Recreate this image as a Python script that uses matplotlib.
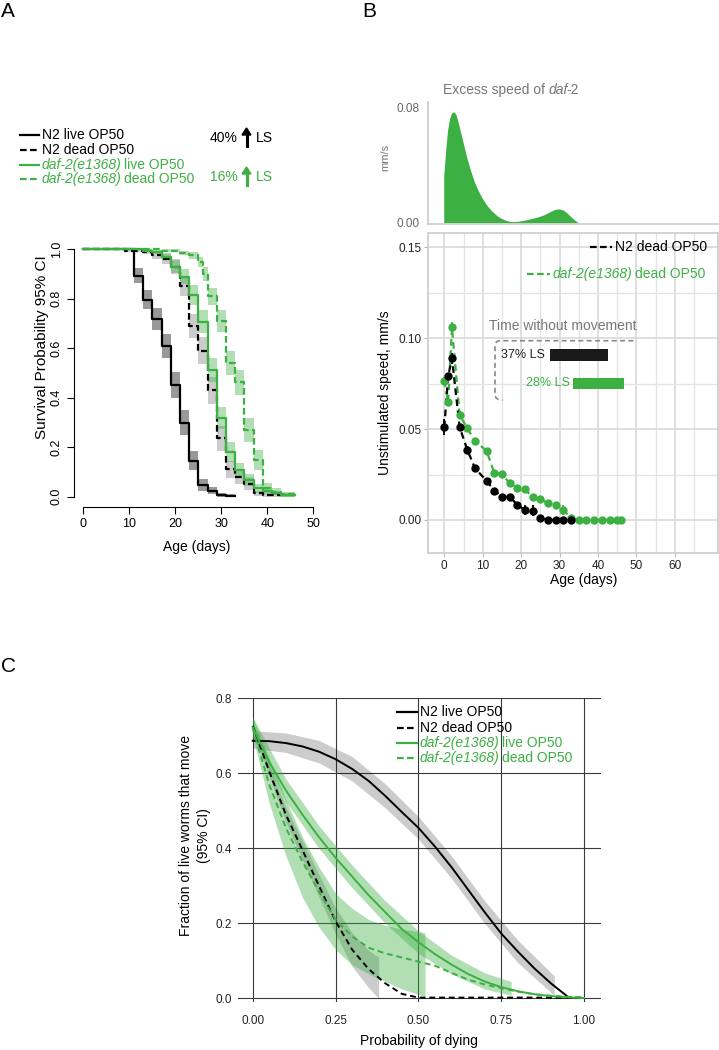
import numpy as np
import matplotlib
matplotlib.use("Agg")
import matplotlib.pyplot as plt
from matplotlib.path import Path
from matplotlib.patches import PathPatch, Rectangle

plt.rcParams['font.family'] = ['Liberation Sans', 'DejaVu Sans']

W, H = 719, 1050
GREEN = '#3cb043'
GREY_TXT = '#777777'

N2_LIVE = [('N2 live OP50', 'normal')]
N2_DEAD = [('N2 dead OP50', 'normal')]
DAF_LIVE = [('daf-2(e1368)', 'italic'), (' live OP50', 'normal')]
DAF_DEAD = [('daf-2(e1368)', 'italic'), (' dead OP50', 'normal')]

# ---- A: Kaplan-Meier, fraction alive after each day, with CI half width
n2_live_days = [0, 11, 13, 15, 17, 19, 21, 23, 25, 27, 29, 31]
n2_live_surv = [1.0, 0.894, 0.797, 0.717, 0.609, 0.452, 0.299, 0.146, 0.047, 0.024, 0.008, 0.004]
n2_live_ci = [0, 0.03, 0.04, 0.045, 0.05, 0.053, 0.05, 0.04, 0.025, 0.015, 0.008, 0.005]
n2_live_end = 33

n2_dead_days = [0, 9, 13, 15, 17, 19, 21, 23, 25, 27, 29, 31, 33, 35, 37, 39]
n2_dead_surv = [1.0, 0.995, 0.99, 0.975, 0.96, 0.93, 0.85, 0.69, 0.59, 0.43, 0.236, 0.11, 0.08, 0.053, 0.013, 0.007]
n2_dead_ci = [0, 0.005, 0.01, 0.015, 0.02, 0.03, 0.04, 0.05, 0.055, 0.055, 0.05, 0.035, 0.03, 0.025, 0.01, 0.007]
n2_dead_end = 43

daf_live_days = [0, 13, 15, 17, 19, 21, 23, 25, 27, 29, 31, 33, 35, 37, 39, 41, 43]
daf_live_surv = [1.0, 0.995, 0.99, 0.97, 0.93, 0.89, 0.816, 0.708, 0.512, 0.317, 0.182, 0.108, 0.067, 0.034, 0.024, 0.015, 0.008]
daf_live_ci = [0, 0.005, 0.008, 0.015, 0.025, 0.03, 0.04, 0.045, 0.05, 0.045, 0.04, 0.03, 0.025, 0.018, 0.015, 0.01, 0.008]
daf_live_end = 46

daf_dead_days = [0, 17, 21, 23, 25, 26, 27, 29, 31, 33, 35, 37, 39, 41, 43]
daf_dead_surv = [1.0, 0.995, 0.985, 0.975, 0.95, 0.90, 0.81, 0.71, 0.54, 0.462, 0.27, 0.148, 0.034, 0.02, 0.01]
daf_dead_ci = [0, 0.005, 0.01, 0.015, 0.02, 0.03, 0.035, 0.045, 0.05, 0.05, 0.05, 0.04, 0.02, 0.015, 0.01]
daf_dead_end = 46

# ---- B: unstimulated speed (mm/s), mean and error
n2_speed_days = [0, 1, 2, 4, 6, 8, 11, 13, 15, 17, 19, 21, 23, 25, 27, 29, 31, 33]
n2_speed = [0.051, 0.079, 0.089, 0.051, 0.0385, 0.0284, 0.0216, 0.0161, 0.0128, 0.0128, 0.0083,
            0.0055, 0.005, 0.001, 0, 0, 0, 0]
n2_speed_err = [0.0045, 0.002, 0.003, 0.002, 0.002, 0.001, 0.001, 0.001, 0.001, 0.001, 0.0015,
                0.003, 0.003, 0.001, 0, 0, 0, 0]
daf_speed_days = [0, 1, 2, 4, 6, 8, 11, 13, 15, 17, 19, 21, 23, 25, 27, 29, 31, 33,
                  35, 37, 39, 41, 43, 45, 46]
daf_speed = [0.0767, 0.065, 0.106, 0.0578, 0.0504, 0.0435, 0.038, 0.026, 0.0253, 0.0202, 0.0178,
             0.0169, 0.0125, 0.0114, 0.0092, 0.0081, 0.0055, 0.001, 0, 0, 0, 0, 0, 0, 0]
daf_speed_err = [0.002, 0.002, 0.003, 0.002, 0.001, 0.001, 0.001, 0.001, 0.001, 0.001, 0.001,
                 0.001, 0.001, 0.001, 0.0015, 0.002, 0.003, 0.0005, 0, 0, 0, 0, 0, 0, 0]

# time without movement (days)
n2_still = (27.4, 42.6)
daf_still = (33.5, 46.7)

# excess speed of daf-2 (mm/s)
excess_days = [0, 0.5, 1, 1.5, 2, 2.6, 3.2, 4, 5, 6, 7, 8, 9, 10, 11, 12, 13, 14, 15, 16, 17,
               18, 19, 20, 21, 22, 23, 24, 25, 26, 27, 28, 29, 30, 31, 32, 33, 34, 35]
excess_speed = [0.032, 0.05, 0.064, 0.072, 0.076, 0.077, 0.075, 0.067, 0.056, 0.045, 0.036, 0.028,
                0.022, 0.017, 0.0128, 0.0095, 0.0068, 0.0046, 0.003, 0.0018, 0.001, 0.0008, 0.0009,
                0.0013, 0.0018, 0.0024, 0.003, 0.0037, 0.0045, 0.0055, 0.0068, 0.0082, 0.0093,
                0.0096, 0.0088, 0.0068, 0.0042, 0.0018, 0.0]

# ---- C: fraction of live worms that move vs probability of dying
p_n2_live = [0, 0.05, 0.1, 0.15, 0.2, 0.25, 0.3, 0.35, 0.4, 0.45, 0.5, 0.55, 0.6, 0.65, 0.7,
             0.75, 0.8, 0.85, 0.9, 0.95]
mv_n2_live = [0.687, 0.686, 0.681, 0.672, 0.658, 0.638, 0.612, 0.58, 0.54, 0.497, 0.455, 0.405,
              0.35, 0.29, 0.23, 0.173, 0.125, 0.08, 0.04, 0.005]
band_n2_live_p = [0, 0.1, 0.2, 0.3, 0.4, 0.5, 0.6, 0.7, 0.8, 0.91]
band_n2_live_lo = [0.667, 0.656, 0.628, 0.58, 0.508, 0.425, 0.32, 0.2, 0.095, 0.008]
band_n2_live_hi = [0.714, 0.708, 0.688, 0.645, 0.572, 0.485, 0.38, 0.26, 0.155, 0.06]

p_n2_dead = [0, 0.05, 0.1, 0.15, 0.2, 0.25, 0.3, 0.35, 0.4, 0.45, 0.5, 1.0]
mv_n2_dead = [0.727, 0.605, 0.49, 0.396, 0.3, 0.206, 0.13, 0.078, 0.04, 0.012, 0.002, 0.002]
band_n2_dead_p = [0, 0.05, 0.1, 0.15, 0.2, 0.25, 0.3, 0.35, 0.38]
band_n2_dead_lo = [0.717, 0.59, 0.47, 0.371, 0.27, 0.171, 0.085, 0.028, 0.0]
band_n2_dead_hi = [0.737, 0.62, 0.51, 0.421, 0.33, 0.241, 0.175, 0.128, 0.11]

p_daf_live = [0, 0.05, 0.1, 0.15, 0.2, 0.25, 0.3, 0.35, 0.4, 0.45, 0.5, 0.55, 0.6, 0.65, 0.7,
              0.75, 0.8, 0.85, 0.9, 0.95, 1.0]
mv_daf_live = [0.723, 0.63, 0.555, 0.49, 0.43, 0.375, 0.325, 0.275, 0.23, 0.185, 0.15, 0.118,
               0.09, 0.065, 0.045, 0.03, 0.019, 0.011, 0.006, 0.003, 0.001]
band_daf_live_p = [0, 0.1, 0.2, 0.3, 0.4, 0.5, 0.6, 0.7, 0.78]
band_daf_live_lo = [0.70, 0.525, 0.40, 0.295, 0.20, 0.12, 0.065, 0.025, 0.008]
band_daf_live_hi = [0.75, 0.585, 0.46, 0.355, 0.26, 0.18, 0.115, 0.068, 0.045]

p_daf_dead = [0, 0.05, 0.1, 0.15, 0.2, 0.25, 0.3, 0.35, 0.4, 0.45, 0.5, 0.55, 0.6, 0.65, 0.7,
              0.75, 0.8, 0.85, 0.9, 0.95, 1.0]
mv_daf_dead = [0.72, 0.57, 0.455, 0.365, 0.285, 0.21, 0.165, 0.135, 0.12, 0.109, 0.098, 0.087,
               0.068, 0.05, 0.037, 0.027, 0.018, 0.011, 0.007, 0.004, 0.002]
band_daf_dead_p = [0, 0.05, 0.1, 0.15, 0.2, 0.25, 0.3, 0.35, 0.4, 0.45, 0.52]
band_daf_dead_lo = [0.70, 0.52, 0.38, 0.27, 0.19, 0.13, 0.09, 0.065, 0.045, 0.025, 0.005]
band_daf_dead_hi = [0.75, 0.64, 0.53, 0.43, 0.35, 0.28, 0.24, 0.21, 0.195, 0.185, 0.175]


def fx(x):
    return x / W


def fy(y):
    return 1 - y / H


def box(left, top, right, bottom):
    return [left / W, 1 - bottom / H, (right - left) / W, (bottom - top) / H]


def label(x, y, s, **kw):
    return fig.text(fx(x), fy(y), s, **kw)


def rich(x, y, pieces, color, fs=10):
    # pieces of text with their own style, laid out left to right (pixels, top-left origin)
    renderer = fig.canvas.get_renderer()
    space = fs * 100 / 72 * 0.278
    cur = x
    for s, style in pieces:
        cur += (len(s) - len(s.lstrip(' '))) * space
        t = label(cur, y, s.strip(), color=color, fontsize=fs, style=style, ha='left', va='center')
        cur = t.get_window_extent(renderer).x1 + (len(s) - len(s.rstrip(' '))) * space
        if style == 'italic':
            cur -= 1.5


def key(x0, x1, y, color, ls, pieces, fs=10):
    fig.add_artist(plt.Line2D([fx(x0), fx(x1)], [fy(y), fy(y)], color=color, ls=ls, lw=1.6,
                              transform=fig.transFigure))
    rich(x1 + 3, y, pieces, color, fs)


def km(ax, days, surv, ci, end, band, alpha):
    d = list(days) + [end]
    s = np.array(list(surv) + [surv[-1]])
    c = np.array(list(ci) + [ci[-1]])
    ax.fill_between(d, np.clip(s - c, 0, 1), np.clip(s + c, 0, 1), step='post',
                    color=band, alpha=alpha, lw=0)
    return d, s


DASH = (0, (3, 1.5))
fig = plt.figure(figsize=(W / 100, H / 100), dpi=100)

# ================= A =================
axA = fig.add_axes(box(74.1, 239.4, 322.5, 506.6))
curves = []
for days, surv, ci, end, col, ls, al in [
        (n2_live_days, n2_live_surv, n2_live_ci, n2_live_end, 'black', '-', 0.4),
        (n2_dead_days, n2_dead_surv, n2_dead_ci, n2_dead_end, 'black', DASH, 0.2),
        (daf_live_days, daf_live_surv, daf_live_ci, daf_live_end, GREEN, '-', 0.4),
        (daf_dead_days, daf_dead_surv, daf_dead_ci, daf_dead_end, GREEN, DASH, 0.4)]:
    d, s = km(axA, days, surv, ci, end, col, al)
    curves.append((d, s, col, ls))
for d, s, col, ls in curves:
    axA.plot(d, s, drawstyle='steps-post', color=col, ls=ls, lw=1.6)

axA.set_xlim(-2, 52)
axA.set_ylim(-0.04, 1.04)
for side in ['top', 'right']:
    axA.spines[side].set_visible(False)
axA.spines['left'].set_bounds(0, 1)
axA.spines['bottom'].set_bounds(0, 50)
axA.set_xticks(range(0, 51, 10))
axA.set_yticks(np.arange(0, 1.01, 0.2))
axA.set_yticklabels(['%.1f' % v for v in np.arange(0, 1.01, 0.2)], rotation=90, va='center')
axA.tick_params(length=5, width=0.8, labelsize=9, pad=3)
label(42, 347, 'Survival Probability 95% CI', rotation=90, ha='center', va='center', fontsize=11)
label(197, 547, 'Age (days)', ha='center', va='center', fontsize=10)

key(20, 39, 135, 'black', '-', N2_LIVE)
key(20, 39, 150, 'black', DASH, N2_DEAD)
key(20, 39, 165, GREEN, '-', DAF_LIVE)
key(20, 39, 179, GREEN, DASH, DAF_DEAD)

for y, pct, col in [(138, '40%', 'black'), (177, '16%', GREEN)]:
    label(210, y, pct, color=col, fontsize=10, va='center', ha='left')
    fig.add_artist(plt.Line2D([fx(246.5)] * 2, [fy(y + 8), fy(y - 3)], color=col, lw=2.2,
                              transform=fig.transFigure))
    fig.add_artist(plt.Polygon([[fx(242), fy(y - 3)], [fx(251), fy(y - 3)], [fx(246.5), fy(y - 10)]],
                               closed=True, color=col, transform=fig.transFigure))
    label(256, y, 'LS', color=col, fontsize=10, va='center', ha='left')

# ================= B top: excess speed =================
axD = fig.add_axes(box(427.7, 101.7, 718.3, 224.3))
axD.fill_between(excess_days, 0, excess_speed, color=GREEN, lw=0)
axD.set_xlim(-4.16, 71.3)
axD.set_ylim(-0.0011, 0.0839)
for side in ['top', 'right']:
    axD.spines[side].set_visible(False)
for side in ['left', 'bottom']:
    axD.spines[side].set_color('#cccccc')
    axD.spines[side].set_linewidth(1.2)
axD.set_xticks([])
axD.set_yticks([0, 0.08])
axD.set_yticklabels(['0.00', '0.08'])
axD.tick_params(axis='y', length=0, labelsize=8.5, labelcolor='#666666', pad=6)
rich(443, 90, [('Excess speed of ', 'normal'), ('daf', 'italic'), ('-2', 'normal')], GREY_TXT)
label(385, 157, 'mm/s', rotation=90, color=GREY_TXT, fontsize=8, va='center', ha='center')

# ================= B main: speed =================
axB = fig.add_axes(box(428.3, 233.3, 718.3, 552.7))
axB.set_xlim(-4.16, 71.3)
axB.set_ylim(-0.018, 0.1577)
axB.set_xticks(range(0, 61, 10))
axB.set_xticks(range(5, 70, 10), minor=True)
axB.set_yticks([0, 0.05, 0.10, 0.15])
axB.set_yticklabels(['0.00', '0.05', '0.10', '0.15'])
axB.set_yticks([0.025, 0.075, 0.125], minor=True)
axB.grid(which='major', color='#d9d9d9', lw=1.2)
axB.grid(which='minor', color='#e3e3e3', lw=0.9)
axB.set_axisbelow(True)
for sp in axB.spines.values():
    sp.set_color('#cccccc')
    sp.set_linewidth(1.2)
axB.tick_params(which='major', length=3, color='#bbbbbb', labelsize=8.5, labelcolor='#222222', pad=2)
axB.tick_params(which='minor', length=0)

axB.plot(daf_speed_days, daf_speed, color=GREEN, ls=(0, (3, 2)), lw=1.6)
axB.errorbar(daf_speed_days, daf_speed, yerr=daf_speed_err, fmt='o', ms=5, color=GREEN,
             ecolor=GREEN, elinewidth=1.3, capsize=0)
axB.plot(n2_speed_days, n2_speed, color='black', ls=(0, (3, 2)), lw=1.6)
axB.errorbar(n2_speed_days, n2_speed, yerr=n2_speed_err, fmt='o', ms=5, color='black',
             ecolor='black', elinewidth=1.3, capsize=0)

axB.add_patch(Rectangle((n2_still[0], 0.0875), n2_still[1] - n2_still[0], 0.0065,
                        color='#1a1a1a', lw=0))
axB.add_patch(Rectangle((daf_still[0], 0.0719), daf_still[1] - daf_still[0], 0.0064,
                        color=GREEN, lw=0))
bracket = Path([(49.2, 0.0986), (14.6, 0.0986), (13.2, 0.0986), (13.2, 0.0955),
                (13.2, 0.069), (13.2, 0.066), (15.2, 0.066)],
               [Path.MOVETO, Path.LINETO, Path.CURVE3, Path.CURVE3, Path.LINETO,
                Path.CURVE3, Path.CURVE3])
axB.add_patch(PathPatch(bracket, fill=False, ec='#888888', lw=1.2, ls=(0, (3, 2))))

label(563, 326, 'Time without movement', color=GREY_TXT, fontsize=10, ha='center', va='center')
label(545, 355, '37% LS', color='#222222', fontsize=9, ha='right', va='center')
label(570, 383, '28% LS', color=GREEN, fontsize=9, ha='right', va='center')

key(590, 612, 247, 'black', DASH, N2_DEAD)
key(527, 550, 274, GREEN, DASH, DAF_DEAD)

label(385, 393, 'Unstimulated speed, mm/s', rotation=90, ha='center', va='center', fontsize=10)
label(584, 580, 'Age (days)', ha='center', va='center', fontsize=10)

# ================= C =================
axC = fig.add_axes(box(237.5, 697.7, 600.6, 1002.1))
axC.fill_between(band_n2_live_p, band_n2_live_lo, band_n2_live_hi, color='black', alpha=0.2, lw=0)
axC.fill_between(band_n2_dead_p, band_n2_dead_lo, band_n2_dead_hi, color='black', alpha=0.2, lw=0)
axC.fill_between(band_daf_live_p, band_daf_live_lo, band_daf_live_hi, color=GREEN, alpha=0.4, lw=0)
axC.fill_between(band_daf_dead_p, band_daf_dead_lo, band_daf_dead_hi, color=GREEN, alpha=0.4, lw=0)
axC.plot(p_n2_live, mv_n2_live, color='black', lw=1.4)
axC.plot(p_n2_dead, mv_n2_dead, color='black', lw=1.4, ls=(0, (3, 2)))
axC.plot(p_daf_live, mv_daf_live, color=GREEN, lw=1.4)
axC.plot(p_daf_dead, mv_daf_dead, color=GREEN, lw=1.4, ls=(0, (3, 2)))

axC.set_xlim(-0.046, 1.05)
axC.set_ylim(-0.01, 0.802)
axC.set_xticks([0, 0.25, 0.5, 0.75, 1.0])
axC.set_xticklabels(['0.00', '0.25', '0.50', '0.75', '1.00'])
axC.set_yticks([0, 0.2, 0.4, 0.6, 0.8])
axC.set_yticklabels(['0.0', '0.2', '0.4', '0.6', '0.8'])
axC.grid(color='#3a3a3a', lw=0.8)
axC.set_axisbelow(True)
for sp in axC.spines.values():
    sp.set_visible(False)
axC.tick_params(length=0, labelsize=8.5, labelcolor='#222222')
axC.tick_params(axis='x', pad=9)
axC.tick_params(axis='y', pad=4)

key(397, 417, 712, 'black', '-', N2_LIVE)
key(397, 417, 728, 'black', DASH, N2_DEAD)
key(397, 417, 743, GREEN, '-', DAF_LIVE)
key(397, 417, 758, GREEN, DASH, DAF_DEAD)

label(186, 836, 'Fraction of live worms that move', rotation=90, ha='center', va='center', fontsize=10)
label(204, 836, '(95% CI)', rotation=90, ha='center', va='center', fontsize=10)
label(419, 1041, 'Probability of dying', ha='center', va='center', fontsize=10)

# panel letters
label(1, 17, 'A', fontsize=15, ha='left', va='baseline')
label(362, 17, 'B', fontsize=15, ha='left', va='baseline')
label(1, 672, 'C', fontsize=15, ha='left', va='baseline')

fig.savefig('out.png', dpi=100)
